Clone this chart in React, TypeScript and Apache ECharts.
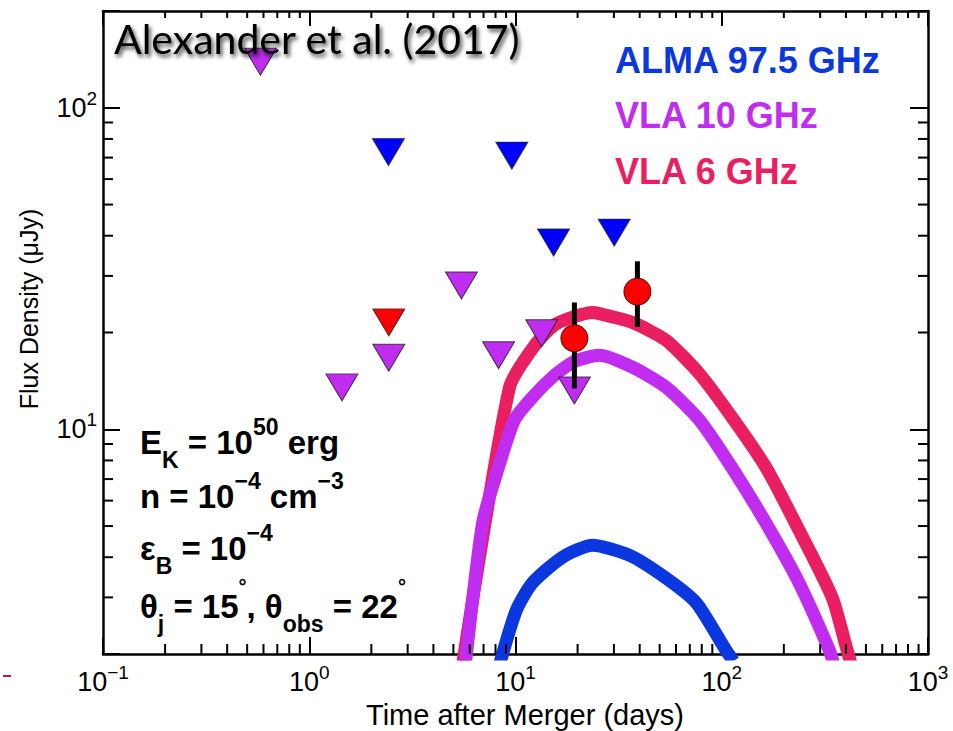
import React, { useEffect, useRef } from 'react';
import * as echarts from 'echarts';

// Axis ranges (log scales)
const X_MIN = 0.1;
const X_MAX = 1000;
const Y_MIN = 2;
const Y_MAX = 200;

// Model light curves: time after merger (days) and flux density (μJy)
const vla6CurveT = [5.5, 9.35, 12.6, 15.8, 23.6, 25.5, 36.9, 53.8, 77.8, 112, 164, 237, 343, 405, 430];
const vla6CurveF = [1.8, 13.5, 18.5, 21.3, 23.1, 22.9, 21.5, 18.9, 14.9, 10.9, 7.6, 4.85, 3.0, 2.06, 1.8];

const vla10CurveT = [5.68, 6.92, 8.1, 9.9, 12.1, 15.8, 19.5, 25.5, 36.9, 53.8, 77.8, 112, 164, 237, 332, 350];
const vla10CurveF = [1.8, 5.1, 7.3, 10.7, 12.6, 14.9, 16.3, 17.0, 15.6, 13.5, 10.7, 7.6, 5.1, 3.33, 2.06, 1.85];

const almaCurveT = [8.36, 10.1, 12.1, 16.9, 23.6, 35.6, 53.8, 75.4, 105, 114];
const almaCurveF = [1.85, 2.74, 3.33, 4.0, 4.36, 4.06, 3.44, 2.88, 2.05, 1.9];

// Upper limits (downward triangles)
const almaLimitT = [2.42, 9.6, 15.3, 30.1];
const almaLimitF = [72.8, 71, 38.1, 40.9];

const vla10LimitT = [0.58, 1.44, 2.43, 5.47, 8.28, 13.4, 19.3];
const vla10LimitF = [139, 13.5, 16.7, 28, 17, 19.9, 13.2];

const vla6LimitT = [2.43];
const vla6LimitF = [21.5];

// VLA 6 GHz detections with uncertainties
const vla6DetT = [19.3, 39];
const vla6DetF = [19.2, 26.8];
const vla6DetLo = [13.4, 20.8];
const vla6DetHi = [24.8, 33.3];

const COLOR_ALMA = '#0b38de';
const COLOR_VLA10 = '#c02cf0';
const COLOR_VLA6 = '#e91f62';
const FONT = '"Liberation Sans", Arial, Helvetica, sans-serif';

const zip = (a: number[], b: number[]) => a.map((v, i) => [v, b[i]]);

// Minor tick positions of the log axes (2..9 within each decade)
const minorX: number[] = [];
for (let k = -1; k < 3; k++) {
  for (let m = 2; m <= 9; m++) minorX.push(m * Math.pow(10, k));
}
const minorY: number[] = [];
for (let k = 0; k < 3; k++) {
  for (let m = 2; m <= 9; m++) {
    const v = m * Math.pow(10, k);
    if (v > Y_MIN * 1.001 && v < Y_MAX * 0.999) minorY.push(v);
  }
}

const powerLabel = (value: number) => {
  const e = Math.log10(value);
  const r = Math.round(e);
  if (Math.abs(e - r) > 1e-6) return '';
  return `{b|10}{s|${r < 0 ? '\u2212' : ''}${Math.abs(r)}}`;
};

const labelRich = {
  b: { fontSize: 27, fontFamily: FONT, color: '#000', lineHeight: 22 },
  s: { fontSize: 19, fontFamily: FONT, color: '#000', lineHeight: 22, padding: [0, 0, 19, 0] },
};

const logAxis = (min: number, max: number, position: string, tickLen: number, labels: boolean, margin: number) => ({
  type: 'log',
  logBase: 10,
  min,
  max,
  position,
  axisLine: { show: true, lineStyle: { color: '#000', width: 2.5 } },
  axisTick: { show: true, inside: true, length: tickLen, lineStyle: { color: '#000', width: 2 } },
  axisLabel: labels
    ? { show: true, margin, formatter: powerLabel, rich: labelRich }
    : { show: false },
  splitLine: { show: false },
  minorTick: { show: false },
});

const triangleSeries = (t: number[], f: number[], color: string) => ({
  type: 'scatter',
  data: zip(t, f),
  symbol: 'triangle',
  symbolRotate: 180,
  symbolSize: [32, 27],
  itemStyle: { color, opacity: 1, borderColor: 'rgba(30,30,30,0.8)', borderWidth: 1 },
  z: 5,
});

const curveSeries = (t: number[], f: number[], color: string) => ({
  type: 'line',
  data: zip(t, f),
  showSymbol: false,
  symbol: 'none',
  clip: true,
  smooth: 0.22,
  lineStyle: { color, width: 13, cap: 'butt', join: 'round', opacity: 1 },
  z: 3,
});

const tickSeries = (values: number[], dir: 'x' | 'y') => ({
  type: 'custom',
  silent: true,
  clip: false,
  z: 10,
  data: values.map((v) => (dir === 'x' ? [v, 10] : [1, v])),
  encode: { x: 0, y: 1 },
  renderItem: (params: any, api: any) => {
    const cs = params.coordSys;
    const p = api.coord([api.value(0), api.value(1)]);
    const st = { stroke: '#000', lineWidth: 2 };
    if (dir === 'x') {
      const bottom = cs.y + cs.height;
      return {
        type: 'group',
        children: [
          { type: 'line', shape: { x1: p[0], y1: bottom, x2: p[0], y2: bottom - 10 }, style: st },
          { type: 'line', shape: { x1: p[0], y1: cs.y, x2: p[0], y2: cs.y + 7 }, style: st },
        ],
      };
    }
    const right = cs.x + cs.width;
    return {
      type: 'group',
      children: [
        { type: 'line', shape: { x1: cs.x, y1: p[1], x2: cs.x + 10, y2: p[1] }, style: st },
        { type: 'line', shape: { x1: right, y1: p[1], x2: right - 10, y2: p[1] }, style: st },
      ],
    };
  },
});

const paramRich = {
  m: { fontSize: 33, fontWeight: 'bold', fontFamily: FONT, fill: '#000', lineHeight: 44 },
  sup: { fontSize: 23, fontWeight: 'bold', fontFamily: FONT, fill: '#000', lineHeight: 44, padding: [0, 0, 31, 0] },
  sub: { fontSize: 23, fontWeight: 'bold', fontFamily: FONT, fill: '#000', lineHeight: 44, padding: [36, 0, 0, 0] },
  deg: { fontSize: 20, fontWeight: 'bold', fontFamily: FONT, fill: '#000', lineHeight: 44, padding: [0, 0, 40, 0] },
};

const paramLines = [
  '{m|E}{sub|K}{m| = 10}{sup|50}{m| erg}',
  '{m|n = 10}{sup|\u22124}{m| cm}{sup|\u22123}',
  '{m|\u03b5}{sub|B}{m| = 10}{sup|\u22124}',
  '{m|\u03b8}{sub|j}{m| = 15}{deg|\u00b0}{m|, \u03b8}{sub|obs}{m| = 22}{deg|\u00b0}',
];
const paramLineY = [442, 496, 548, 606];

const legendItems = [
  { text: 'ALMA 97.5 GHz', color: COLOR_ALMA, y: 60 },
  { text: 'VLA 10 GHz', color: COLOR_VLA10, y: 115 },
  { text: 'VLA 6 GHz', color: COLOR_VLA6, y: 171 },
];

export default function App() {
  const ref = useRef<HTMLDivElement>(null);

  useEffect(() => {
    if (!ref.current) return;
    const chart = echarts.init(ref.current, undefined, { renderer: 'svg' });

    const graphics: any[] = [
      {
        type: 'text',
        x: 114,
        y: 38,
        z: 20,
        style: {
          text: 'Alexander et al. (2017)',
          font: '41px Lato, "Open Sans", sans-serif',
          fill: '#000',
          align: 'left',
          verticalAlign: 'middle',
          textShadowColor: 'rgba(0,0,0,0.75)',
          textShadowBlur: 4,
          textShadowOffsetX: 2,
          textShadowOffsetY: 3,
        },
      },
      ...legendItems.map((it) => ({
        type: 'text',
        x: 615,
        y: it.y,
        z: 20,
        style: {
          text: it.text,
          font: `bold 36px ${FONT}`,
          fill: it.color,
          align: 'left',
          verticalAlign: 'middle',
        },
      })),
      ...paramLines.map((txt, i) => ({
        type: 'text',
        x: 140,
        y: paramLineY[i],
        z: 20,
        style: {
          text: txt,
          rich: paramRich,
          align: 'left',
          verticalAlign: 'middle',
        },
      })),
      {
        type: 'text',
        x: 525,
        y: 715,
        z: 20,
        style: {
          text: 'Time after Merger (days)',
          font: `29px ${FONT}`,
          fill: '#000',
          align: 'center',
          verticalAlign: 'middle',
        },
      },
      {
        type: 'text',
        x: 29,
        y: 309,
        rotation: Math.PI / 2,
        z: 20,
        style: {
          text: 'Flux Density (\u03bcJy)',
          font: `25px ${FONT}`,
          fill: '#000',
          align: 'center',
          verticalAlign: 'middle',
        },
      },
      {
        type: 'rect',
        shape: { x: 3, y: 675, width: 8, height: 2 },
        style: { fill: '#b0203a' },
      },
    ];

    const errorBars = vla6DetT.map((t, i) => [t, vla6DetLo[i], vla6DetHi[i]]);

    chart.setOption({
      animation: false,
      backgroundColor: '#ffffff',
      grid: { left: 103, right: 25, top: 11, bottom: 77, containLabel: false },
      xAxis: [
        logAxis(X_MIN, X_MAX, 'bottom', 17, true, 17),
        logAxis(X_MIN, X_MAX, 'top', 15, false, 0),
      ],
      yAxis: [
        logAxis(Y_MIN, Y_MAX, 'left', 17, true, 6),
        logAxis(Y_MIN, Y_MAX, 'right', 18, false, 0),
      ],
      series: [
        curveSeries(vla6CurveT, vla6CurveF, COLOR_VLA6),
        curveSeries(vla10CurveT, vla10CurveF, COLOR_VLA10),
        curveSeries(almaCurveT, almaCurveF, COLOR_ALMA),
        tickSeries(minorX, 'x'),
        tickSeries(minorY, 'y'),
        triangleSeries(vla10LimitT, vla10LimitF, COLOR_VLA10),
        triangleSeries(almaLimitT, almaLimitF, '#0000ff'),
        triangleSeries(vla6LimitT, vla6LimitF, '#ff0000'),
        {
          type: 'custom',
          data: errorBars,
          encode: { x: 0, y: [1, 2] },
          z: 6,
          renderItem: (params: any, api: any) => {
            const lo = api.coord([api.value(0), api.value(1)]);
            const hi = api.coord([api.value(0), api.value(2)]);
            return {
              type: 'line',
              shape: { x1: lo[0], y1: lo[1], x2: hi[0], y2: hi[1] },
              style: { stroke: '#000', lineWidth: 5 },
            };
          },
        },
        {
          type: 'scatter',
          data: zip(vla6DetT, vla6DetF),
          symbol: 'circle',
          symbolSize: 27,
          itemStyle: { color: '#ff0000', opacity: 1, borderColor: '#5a0000', borderWidth: 1 },
          z: 7,
        },
      ],
      graphic: graphics,
    });

    return () => chart.dispose();
  }, []);

  return (
    <div
      ref={ref}
      style={{ position: 'absolute', left: 0, top: 0, width: 953, height: 731, background: '#fff' }}
    />
  );
}
